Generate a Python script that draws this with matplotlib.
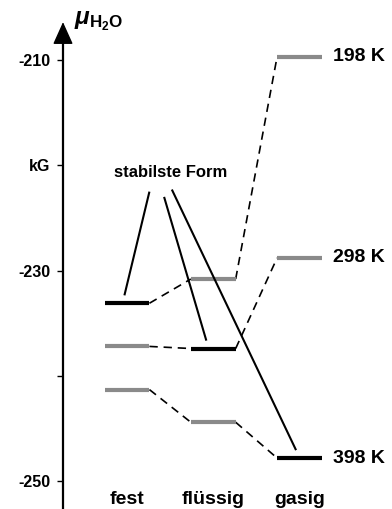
import matplotlib
matplotlib.use('Agg')
import matplotlib.pyplot as plt

plt.rcParams['font.family'] = ['Liberation Sans', 'DejaVu Sans']
plt.rcParams['font.weight'] = 'bold'
plt.rcParams['mathtext.fontset'] = 'custom'
plt.rcParams['mathtext.it'] = 'Liberation Sans:italic:bold'
plt.rcParams['mathtext.rm'] = 'Liberation Sans:bold'

# phases along the x axis
phases = ['fest', 'flüssig', 'gasig']
phase_x = [0, 1, 2]
temps = ['198 K', '298 K', '398 K']

# chemical potential of water (kG) per temperature, for fest / flüssig / gasig
mu_198 = [-233.1, -230.8, -209.7]
mu_298 = [-237.2, -237.4, -228.8]
mu_398 = [-241.3, -244.4, -247.8]
mu_all = [mu_198, mu_298, mu_398]
stable_phase = [0, 1, 2]  # index of the stable phase at each temperature

yticks = [-210, -220, -230, -240, -250]
ytick_labels = ['-210', 'kG', '-230', '', '-250']

GRAY = '#8a8a8a'
HW = 0.26  # half width of a level bar
AX_X = -0.742

fig = plt.figure(figsize=(3.92, 5.09), dpi=100)
ax = fig.add_axes([0, 0, 1, 1])
ax.set_xlim(-1.4725, 3.0725)
ax.set_ylim(-252.64, -204.30)

for mu, st in zip(mu_all, stable_phase):
    # dashed connectors between the phases
    for i in range(len(phase_x) - 1):
        ax.plot([phase_x[i] + HW, phase_x[i + 1] - HW], [mu[i], mu[i + 1]],
                color='black', lw=1.2, linestyle=(0, (5, 3.5)), zorder=2)
    for i, (x, v) in enumerate(zip(phase_x, mu)):
        stable = i == st
        ax.plot([x - HW, x + HW], [v, v], color='black' if stable else GRAY,
                lw=3.0, solid_capstyle='butt', zorder=3)

# temperature labels next to the gas levels
for mu, t in zip(mu_all, temps):
    ax.text(phase_x[2] + HW + 0.13, mu[2], t, fontsize=14, fontweight='bold',
            ha='left', va='center')

# "stabilste Form" with pointer lines
ax.text(0.51, -221.1, 'stabilste Form', fontsize=12, fontweight='bold',
        ha='center', va='baseline')
ptr_start_x = [0.26, 0.43, 0.52]
ptr_start_y = [-222.5, -223.0, -222.3]
ptr_end_dx = [-0.03, -0.08, -0.04]
for sx, sy, dx, mu, st in zip(ptr_start_x, ptr_start_y, ptr_end_dx, mu_all, stable_phase):
    ax.plot([sx, phase_x[st] + dx], [sy, mu[st] + 0.75], color='black', lw=1.5,
            solid_capstyle='butt', zorder=4)

# phase labels at the bottom
for x, p in zip(phase_x, phases):
    ax.text(x, -252.2, p, fontsize=14, fontweight='bold', ha='center', va='baseline')

# y axis with arrow
for s in ['top', 'right', 'bottom']:
    ax.spines[s].set_visible(False)
ax.spines['left'].set_position(('data', AX_X))
ax.spines['left'].set_linewidth(1.6)
ax.spines['left'].set_bounds(-252.64, -207.3)
ax.set_xticks([])
ax.set_yticks(yticks)
ax.set_yticklabels(ytick_labels, fontsize=11.5, fontweight='bold')
ax.tick_params(axis='y', direction='out', length=4.3, width=1.0, pad=5)
ax.annotate('', xy=(AX_X, -206.4), xytext=(AX_X, -207.8),
            arrowprops=dict(arrowstyle='-|>,head_width=0.45,head_length=1.0',
                            color='black', lw=1.0, shrinkA=0, shrinkB=0,
                            mutation_scale=14))
ax.text(AX_X + 0.13, -206.6, r'$\mu_{\mathrm{H_2O}}$', fontsize=17.5,
        ha='left', va='baseline')

fig.savefig('out.png', dpi=100)
